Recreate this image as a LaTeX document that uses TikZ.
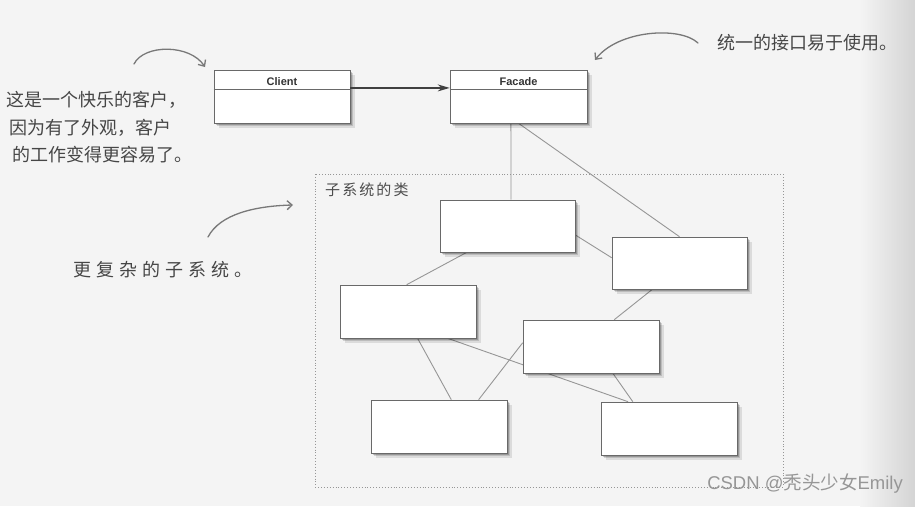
\documentclass[tikz,border=0pt]{standalone}
\usepackage{fontspec}
\setmainfont{Liberation Sans}
\newfontfamily\cjk{Noto Sans CJK SC}
\usetikzlibrary{arrows.meta,shadows,calc}
\definecolor{paper}{RGB}{244,244,244}
\definecolor{edgegray}{RGB}{105,105,105}
\definecolor{linkgray}{RGB}{150,150,150}
\definecolor{handgray}{RGB}{70,70,70}
\definecolor{arrowgray}{RGB}{120,120,120}
\definecolor{framegray}{RGB}{150,150,150}
\definecolor{wmgray}{RGB}{150,150,150}
\pgfdeclarelayer{paperlayer}
\pgfdeclarelayer{edgelayer}
\pgfsetlayers{paperlayer,edgelayer,main}
\tikzset{
  softshadow/.style={
    general shadow={fill=black, opacity=0.10, shadow xshift=4.5pt, shadow yshift=-4.5pt},
    general shadow={fill=black, opacity=0.14, shadow xshift=3pt, shadow yshift=-3pt},
    general shadow={fill=black, opacity=0.20, shadow xshift=1.5pt, shadow yshift=-1.5pt}},
  classbox/.style={draw=edgegray, fill=white, line width=0.6pt, inner sep=0pt,
    minimum width=136pt, minimum height=53pt, softshadow},
  link/.style={draw=linkgray, line width=0.9pt},
  hand/.style={draw=arrowgray, line width=1.3pt, line cap=round, -{Straight Barb[length=5pt,width=9pt]}},
  handtext/.style={text=handgray, inner sep=0pt, font=\cjk\fontsize{18}{20}\selectfont},
  classname/.style={inner sep=0pt, font=\bfseries\fontsize{11}{12}\selectfont, text=black!80},
}
\begin{document}
\begin{tikzpicture}[x=1pt,y=-1pt]
\useasboundingbox (0,0) rectangle (915,506);
\begin{pgfonlayer}{paperlayer}
  \fill[paper] (0,0) rectangle (915,506);
  \shade[left color=paper, right color={rgb,255:red,212;green,212;blue,212}] (860,0) rectangle (915,506);
\end{pgfonlayer}

% client and facade
\node[classbox] (Client) at (282,96.5) {};
\node[classbox, minimum width=137pt] (Facade) at (518.5,96.5) {};
\draw[draw=edgegray, line width=0.6pt] ($(Client.north west)+(0,19.5)$) -- ($(Client.north east)+(0,19.5)$);
\draw[draw=edgegray, line width=0.6pt] ($(Facade.north west)+(0,19.5)$) -- ($(Facade.north east)+(0,19.5)$);
\node[classname] (clientlbl) at ($(Client.north)+(0,11.5)$) {Client};
\node[classname] (facadelbl) at ($(Facade.north)+(0,11.5)$) {Facade};
\draw[draw=black!75, line width=1.4pt, -{Stealth[length=12pt,width=7pt]}]
  ($(Client.north east)!0.34!(Client.south east)$) -- ($(Facade.north west)!0.34!(Facade.south west)$);

% subsystem frame
\draw[framegray, dotted, line width=0.9pt] (315,174) rectangle (783,487);
\node[anchor=west, inner sep=0pt, text=black!70, font=\cjk\fontsize{15}{18}\selectfont\addfontfeature{LetterSpace=14}] (sublbl) at (325,190) {子系统的类};

% subsystem classes
\node[classbox, minimum width=135pt, minimum height=52pt] (A) at (507.5,226) {};
\node[classbox, minimum width=135pt, minimum height=52pt] (B) at (679.5,263) {};
\node[classbox] (C) at (408,311.5) {};
\node[classbox] (D) at (591,346.5) {};
\node[classbox] (E) at (439,426.5) {};
\node[classbox] (F) at (669,428.5) {};

\begin{pgfonlayer}{edgelayer}
  \draw[link] ($(Facade.south west)!0.445!(Facade.south east)$) -- ($(A.north west)!0.526!(A.north east)$);
  \draw[link] (Facade.south) -- (B.north);
  \draw[link] ($(A.north east)!0.67!(A.south east)$) -- ($(B.north west)!0.4!(B.south west)$);
  \draw[link] ($(A.south west)!0.2!(A.south east)$) -- ($(C.north west)!0.49!(C.north east)$);
  \draw[link] ($(B.south west)!0.3!(B.south east)$) -- ($(D.north west)!0.67!(D.north east)$);
  \draw[link] ($(C.south west)!0.57!(C.south east)$) -- ($(E.north west)!0.59!(E.north east)$);
  \draw[link] ($(C.south west)!0.79!(C.south east)$) -- ($(F.north west)!0.2!(F.north east)$);
  \draw[link] ($(E.north west)!0.79!(E.north east)$) -- ($(D.north west)!0.43!(D.south west)$);
  \draw[link] ($(D.south west)!0.66!(D.south east)$) -- ($(F.north west)!0.235!(F.north east)$);
\end{pgfonlayer}

% annotations
\node[handtext, anchor=west] (happy1) at (6,100) {这是一个快乐的客户，};
\node[handtext, anchor=west] (happy2) at (9,127.5) {因为有了外观，客户};
\node[handtext, anchor=west] (happy3) at (12,155) {的工作变得更容易了。};
\coordinate (a1s) at (134,64);
\coordinate (a1e) at (205,67);
\draw[hand] (a1s) .. controls (144,44) and (190,44) .. (a1e);

\node[handtext, anchor=west] (unified) at (717,43) {统一的接口易于使用。};
\coordinate (a2s) at (698,43);
\coordinate (a2e) at (595,60);
\draw[hand] (a2s) .. controls (680,26) and (618,30) .. (a2e);

\node[handtext, anchor=west, font=\cjk\fontsize{18}{20}\selectfont\addfontfeature{LetterSpace=28}] (complex) at (73,270) {更复杂的子系统。};
\coordinate (a3s) at (208,237);
\coordinate (a3e) at (293,205);
\draw[hand] (a3s) .. controls (220,214) and (255,206) .. (a3e);

% watermark
\node[anchor=east, inner sep=0pt, text=wmgray, font=\fontsize{18.5}{20}\selectfont] (wm) at (903,484) {CSDN @{\cjk 秃头少女}Emily};
\end{tikzpicture}
\end{document}
